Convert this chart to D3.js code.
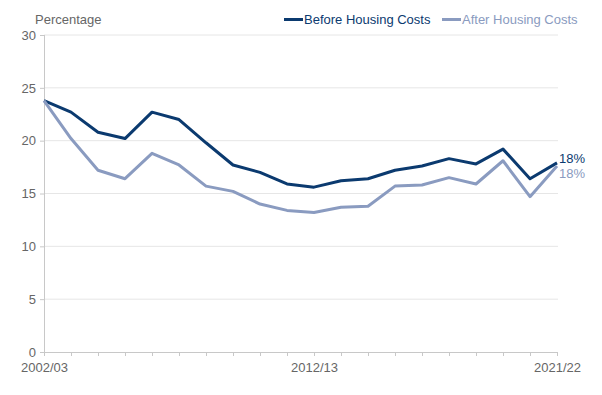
<!DOCTYPE html>
<html><head><meta charset="utf-8">
<script src="https://cdn.jsdelivr.net/npm/d3@7"></script>
<style>body{margin:0;background:#fff}svg{display:block;font-family:"Liberation Sans",Arial,sans-serif}</style>
</head><body><svg id="c" width="602" height="395"></svg>
<script>
const years = ["2002/03","2003/04","2004/05","2005/06","2006/07","2007/08","2008/09","2009/10","2010/11","2011/12","2012/13","2013/14","2014/15","2015/16","2016/17","2017/18","2018/19","2019/20","2020/21","2021/22"];
const bhc = [23.8,22.7,20.8,20.2,22.7,22.0,19.8,17.7,17.0,15.9,15.6,16.2,16.4,17.2,17.6,18.3,17.8,19.2,16.4,17.9];
const ahc = [23.8,20.2,17.2,16.4,18.8,17.7,15.7,15.2,14.0,13.4,13.2,13.7,13.8,15.7,15.8,16.5,15.9,18.1,14.7,17.6];
const yTicks = [0,5,10,15,20,25,30];
const xLabels = ["2002/03","2012/13","2021/22"];
const series = [
  {name:"Before Housing Costs", values:bhc, color:"#0b3a6f", end:"18%"},
  {name:"After Housing Costs", values:ahc, color:"#8a9bc0", end:"18%"}
];

const svg = d3.select("#c");
const x = d3.scalePoint().domain(years).range([44,557]);
const y = d3.scaleLinear().domain([0,30]).range([352,35]);

// gridlines
svg.append("g").selectAll("line").data(yTicks.filter(d=>d>0)).join("line")
  .attr("x1",44).attr("x2",558).attr("y1",d=>y(d)).attr("y2",d=>y(d))
  .attr("stroke","#e6e6e6").attr("stroke-width",1);

// y axis
const ya = svg.append("g").attr("transform","translate(44,0)")
  .call(d3.axisLeft(y).tickValues(yTicks).tickSize(4).tickPadding(4));
ya.select(".domain").attr("stroke","#c8c8c8").attr("d","M0.5,35V352");
ya.selectAll(".tick line").attr("stroke","#c8c8c8");
ya.selectAll("text").attr("fill","#666").style("font-size","13px").style("font-family","'Liberation Sans',Arial,sans-serif");

// x axis
const xa = svg.append("g").attr("transform","translate(0,352)")
  .call(d3.axisBottom(x).tickSize(4).tickPadding(7).tickFormat(d=>xLabels.includes(d)?d:""));
xa.select(".domain").attr("stroke","#c8c8c8").attr("d","M44,0.5H558");
xa.selectAll(".tick line").attr("stroke","#c8c8c8");
xa.selectAll("text").attr("fill","#666").style("font-size","13px").style("font-family","'Liberation Sans',Arial,sans-serif");

// lines
const line = d3.line().x((d,i)=>x(years[i])).y(d=>y(d));
series.forEach(s=>{
  svg.append("path").datum(s.values).attr("d",line)
    .attr("fill","none").attr("stroke",s.color).attr("stroke-width",3)
    .attr("stroke-linejoin","round");
});

// end labels
svg.append("text").attr("x",559).attr("y",163).attr("fill",series[0].color).style("font-size","13px").text(series[0].end);
svg.append("text").attr("x",559).attr("y",178).attr("fill",series[1].color).style("font-size","13px").text(series[1].end);

// y title
svg.append("text").attr("x",35).attr("y",24).attr("fill","#666").style("font-size","13px").text("Percentage");

// legend
const leg = [{x:284},{x:442}];
series.forEach((s,i)=>{
  svg.append("line").attr("x1",leg[i].x).attr("x2",leg[i].x+19).attr("y1",19.5).attr("y2",19.5)
    .attr("stroke",s.color).attr("stroke-width",3);
  svg.append("text").attr("x",leg[i].x+20).attr("y",24).attr("fill",s.color).style("font-size","13px").text(s.name);
});
</script></body></html>
